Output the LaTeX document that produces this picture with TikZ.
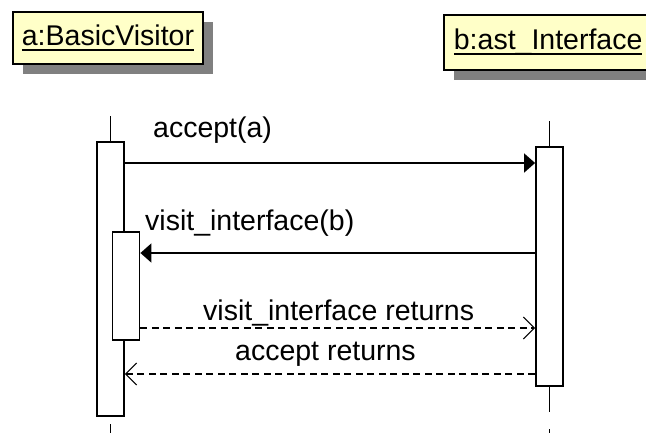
\documentclass[tikz,border=0pt]{standalone}
\usepackage{fontspec}
\setmainfont{Liberation Sans}
\usetikzlibrary{arrows.meta,shadows}
\definecolor{objfill}{RGB}{255,255,200}
\newcommand\objlabel[1]{\setbox0\hbox{#1}\rlap{\rule[-5.5pt]{\wd0}{2pt}}\box0}

\begin{document}
\begin{tikzpicture}[x=1pt, y=-1pt,
    every node/.style={font=\fontsize{28.5}{32}\selectfont},
    object/.style={draw, line width=1.8pt, fill=objfill, anchor=west, inner xsep=9pt, minimum height=52pt,
        drop shadow={shadow xshift=10pt, shadow yshift=-10pt, fill=black!50, opacity=1}},
    bar/.style={draw, line width=1.8pt, fill=white, minimum width=27pt, inner sep=0pt},
    lifeline/.style={line width=1.8pt, dash pattern=on 27pt off 17pt},
    call/.style={line width=1.8pt, -{Triangle[length=11pt,width=19pt]}},
    reply/.style={line width=1.8pt, dash pattern=on 7pt off 4.5pt,
        -{Straight Barb[length=11pt,width=22pt,line width=1.1pt]}},
    msg/.style={anchor=base west, inner sep=0pt}]
    \useasboundingbox (0,0) rectangle (646,432);
    \node[object] (objA) at (12,38) {\objlabel{a:BasicVisitor}};
    \node[object, minimum height=55pt, inner xsep=10pt] (objB) at (443,42.5) {\objlabel{b:ast\_Interface}};

    \coordinate (topA) at (110.5,116);
    \coordinate (endA) at (110.5,450);
    \coordinate (topB) at (549.5,121);
    \coordinate (endB) at (549.5,450);
    \draw[lifeline] (topA) -- (endA);
    \draw[lifeline] (topB) -- (endB);

    \node[bar, minimum height=274pt] (barA) at (110.5,279) {};
    \node[bar, minimum height=108pt] (barA2) at (126,286) {};
    \node[bar, minimum height=239pt] (barB) at (549.5,266.5) {};

    \coordinate (yAccept) at (0,163);
    \coordinate (yVisit) at (0,253);
    \coordinate (yVisitRet) at (0,328);
    \coordinate (yAcceptRet) at (0,374);
    \draw[call] (barA.east |- yAccept) -- (barB.west |- yAccept);
    \draw[call] (barB.west |- yVisit) -- (barA2.east |- yVisit);
    \draw[reply] (barA2.east |- yVisitRet) -- (barB.west |- yVisitRet);
    \draw[reply] (barB.west |- yAcceptRet) -- (barA.east |- yAcceptRet);

    \node[msg] (lblAccept) at (153,137) {accept(a)};
    \node[msg] (lblVisit) at (145,230) {visit\_interface(b)};
    \node[msg] (lblVisitRet) at (203,320) {visit\_interface returns};
    \node[msg] (lblAcceptRet) at (235,360) {accept returns};
\end{tikzpicture}
\end{document}
